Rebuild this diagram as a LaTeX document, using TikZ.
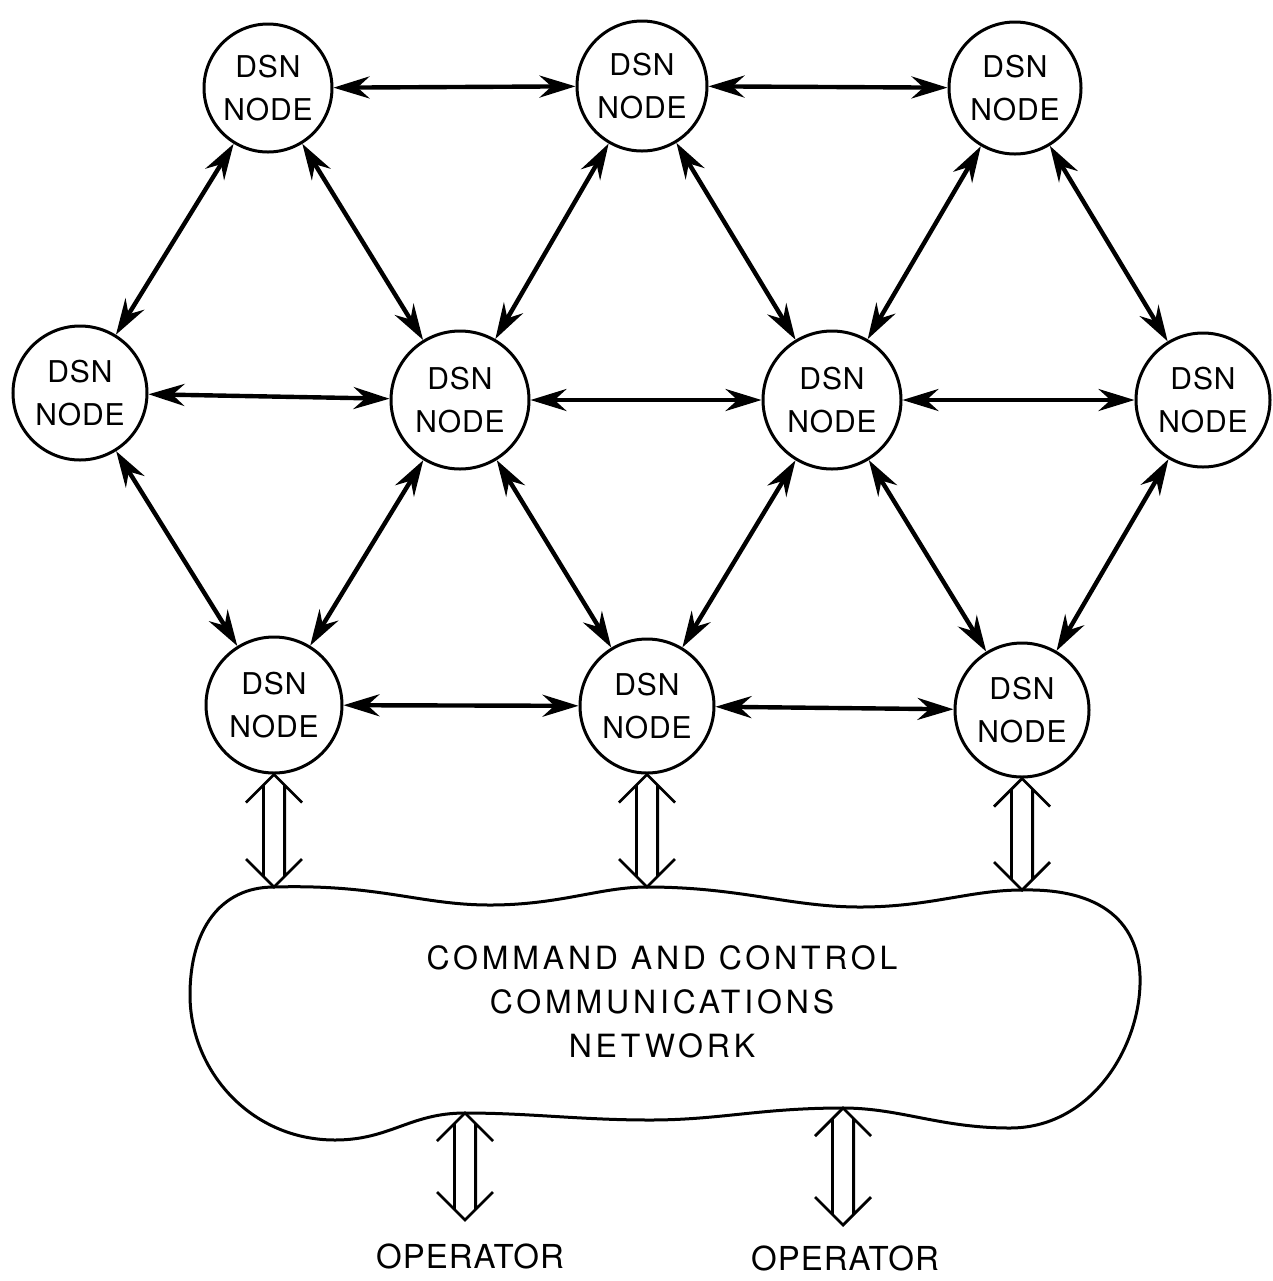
\documentclass[tikz,border=0pt]{standalone}
\usepackage{fontspec}
\setmainfont{TeX Gyre Heros}
\usetikzlibrary{arrows.meta,calc}
\tikzset{
  dsn/.style={circle,draw,line width=1.5pt,minimum size=67pt,inner sep=0pt,align=center,
    font=\fontsize{15}{21.5}\selectfont\addfontfeature{LetterSpace=3}},
  link/.style={line width=2.2pt,
    {Stealth[length=18pt,width=11pt,inset=6pt]}-{Stealth[length=18pt,width=11pt,inset=6pt]}},
  hollow/.style={line width=1.4pt,line join=miter},
  cloudline/.style={line width=1.5pt},
  cloudtext/.style={align=center,font=\fontsize{16}{22}\selectfont\addfontfeature{LetterSpace=12}},
  optext/.style={font=\fontsize{16.5}{20}\selectfont\addfontfeature{LetterSpace=3}}
}
\newcommand\dualarrow[2]{%
  \draw[hollow] let \p1=(#1), \p2=(#2) in
    ({\x1-14pt},{\y1-14pt}) -- (\x1,\y1) -- ({\x1+14pt},{\y1-14pt})
    ({\x1-5.3pt},{\y1-5.3pt}) -- ({\x1-5.3pt},{\y2+5.3pt})
    ({\x1+5.3pt},{\y1-5.3pt}) -- ({\x1+5.3pt},{\y2+5.3pt})
    ({\x2-14pt},{\y2+14pt}) -- (\x2,\y2) -- ({\x2+14pt},{\y2+14pt});}
\begin{document}
\begin{tikzpicture}[x=0.5pt,y=-0.5pt]
\useasboundingbox (0,0) rectangle (1273,1281);
% nodes
\node[dsn,minimum size=64pt] (n1) at (268,88) {DSN\\NODE};
\node[dsn,minimum size=65pt] (n2) at (642,86) {DSN\\NODE};
\node[dsn,minimum size=66pt] (n3) at (1015,88) {DSN\\NODE};
\node[dsn] (n4) at (80,393) {DSN\\NODE};
\node[dsn,minimum size=69pt] (n5) at (460,400) {DSN\\NODE};
\node[dsn,minimum size=69pt] (n6) at (832,400) {DSN\\NODE};
\node[dsn] (n7) at (1203,400) {DSN\\NODE};
\node[dsn,minimum size=68pt] (n8) at (274,705) {DSN\\NODE};
\node[dsn] (n9) at (647,706) {DSN\\NODE};
\node[dsn] (n10) at (1022,710) {DSN\\NODE};
% links
\draw[link] (n1) -- (n2);
\draw[link] (n2) -- (n3);
\draw[link] (n4) -- (n5);
\draw[link] (n5) -- (n6);
\draw[link] (n6) -- (n7);
\draw[link] (n8) -- (n9);
\draw[link] (n9) -- (n10);
\draw[link] (n1) -- (n4);
\draw[link] (n1) -- (n5);
\draw[link] (n2) -- (n5);
\draw[link] (n2) -- (n6);
\draw[link] (n3) -- (n6);
\draw[link] (n3) -- (n7);
\draw[link] (n4) -- (n8);
\draw[link] (n5) -- (n8);
\draw[link] (n5) -- (n9);
\draw[link] (n6) -- (n9);
\draw[link] (n6) -- (n10);
\draw[link] (n7) -- (n10);
% cloud
\coordinate (c8) at (274,887);
\coordinate (c9) at (647,887);
\coordinate (c10) at (1022,890);
\coordinate (o1) at (465,1113);
\coordinate (o2) at (843,1108);
\draw[cloudline] (c8)
  .. controls (380,884) and (420,905) .. (490,905)
  .. controls (560,905) and (600,887) .. (c9)
  .. controls (740,887) and (790,907) .. (860,907)
  .. controls (930,907) and (970,890) .. (c10)
  .. controls (1110,888) and (1142,930) .. (1140,985)
  .. controls (1138,1050) and (1090,1128) .. (1010,1128)
  .. controls (940,1128) and (900,1108) .. (o2)
  .. controls (760,1108) and (720,1120) .. (650,1120)
  .. controls (580,1120) and (530,1113) .. (o1)
  .. controls (410,1113) and (390,1140) .. (335,1140)
  .. controls (250,1140) and (190,1070) .. (190,995)
  .. controls (190,930) and (220,887) .. (c8) -- cycle;
\node[cloudtext] (net) at (662,1002) {COMMAND AND CONTROL\\COMMUNICATIONS\\NETWORK};
% hollow double arrows
\dualarrow{n8.south}{c8}
\dualarrow{n9.south}{c9}
\dualarrow{n10.south}{c10}
\coordinate (p1) at (465,1220);
\coordinate (p2) at (843,1225);
\dualarrow{o1}{p1}
\dualarrow{o2}{p2}
\node[optext] (op1) at (470,1256) {OPERATOR};
\node[optext] (op2) at (845,1258) {OPERATOR};
\end{tikzpicture}
\end{document}
